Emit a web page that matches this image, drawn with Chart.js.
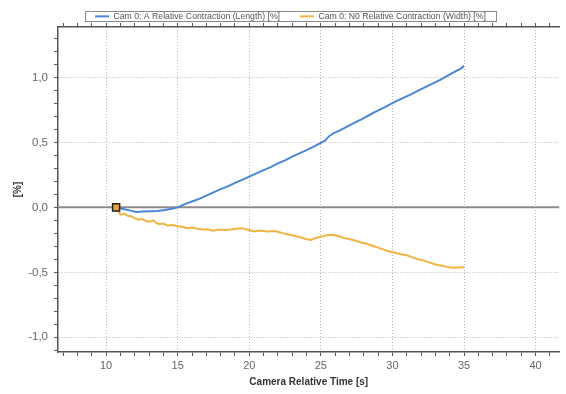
<!DOCTYPE html>
<html>
<head>
<meta charset="utf-8">
<script src="https://cdn.jsdelivr.net/npm/chart.js@4/dist/chart.umd.min.js"></script>
<style>
html,body{margin:0;padding:0;background:#fff;overflow:hidden;}
#c{display:block;}
</style>
</head>
<body>
<canvas id="c" width="566" height="394"></canvas>
<script>
// ---- data ----
const seriesNames = ['Cam 0: A Relative Contraction (Length) [%]', 'Cam 0: N0 Relative Contraction (Width) [%]'];

const lengthX = [10.7, 11.2, 11.7, 12.1, 12.6, 13.1, 13.6, 14.1, 14.6, 15.0, 15.5, 16.0, 16.5, 17.0, 17.5, 18.0, 18.5, 19.0, 19.5, 20.0, 20.5, 21.0, 21.5, 22.0, 22.5, 23.0, 23.5, 24.0, 24.5, 25.0, 25.3, 25.6, 25.9, 26.3, 26.8, 27.3, 27.8, 28.3, 28.8, 29.3, 29.8, 30.3, 30.8, 31.3, 31.8, 32.3, 32.8, 33.3, 33.8, 34.3, 34.8, 35.0];
const lengthY = [0.0, -0.012, -0.025, -0.035, -0.032, -0.03, -0.028, -0.02, -0.01, 0.0, 0.025, 0.045, 0.065, 0.09, 0.115, 0.14, 0.162, 0.188, 0.212, 0.237, 0.262, 0.287, 0.31, 0.338, 0.362, 0.39, 0.415, 0.44, 0.468, 0.497, 0.515, 0.55, 0.572, 0.59, 0.62, 0.648, 0.676, 0.705, 0.735, 0.762, 0.79, 0.82, 0.845, 0.87, 0.898, 0.925, 0.952, 0.98, 1.01, 1.04, 1.07, 1.09];

const widthX = [10.7, 10.9, 11.0, 11.3, 11.5, 11.8, 12.0, 12.3, 12.5, 12.8, 13.0, 13.3, 13.5, 13.7, 14.0, 14.3, 14.6, 15.0, 15.3, 15.7, 16.0, 16.4, 16.8, 17.1, 17.5, 17.9, 18.3, 18.7, 19.1, 19.5, 19.9, 20.3, 20.7, 21.0, 21.3, 21.7, 22.0, 22.4, 22.8, 23.2, 23.6, 24.0, 24.3, 24.6, 25.0, 25.4, 25.8, 26.2, 26.6, 27.0, 27.4, 27.8, 28.2, 28.6, 29.0, 29.4, 29.8, 30.2, 30.6, 31.0, 31.4, 31.8, 32.2, 32.6, 33.0, 33.4, 33.8, 34.2, 34.6, 35.0];
const widthY = [0.0, -0.04, -0.056, -0.05, -0.065, -0.07, -0.085, -0.095, -0.09, -0.105, -0.11, -0.1, -0.12, -0.13, -0.125, -0.14, -0.135, -0.146, -0.15, -0.16, -0.155, -0.165, -0.17, -0.168, -0.18, -0.17, -0.175, -0.17, -0.165, -0.16, -0.172, -0.185, -0.178, -0.182, -0.185, -0.182, -0.188, -0.2, -0.21, -0.22, -0.232, -0.245, -0.25, -0.238, -0.225, -0.215, -0.21, -0.22, -0.235, -0.245, -0.255, -0.27, -0.28, -0.295, -0.31, -0.325, -0.34, -0.35, -0.36, -0.368, -0.385, -0.4, -0.41, -0.425, -0.44, -0.448, -0.458, -0.465, -0.462, -0.46];

const markerX = [10.7];
const markerY = [0.0];

const xTickValues = [10, 15, 20, 25, 30, 35, 40];
const xTickLabels = ['10', '15', '20', '25', '30', '35', '40'];
const yTickValues = [-1.0, -0.5, 0.0, 0.5, 1.0];
const yTickLabels = ['-1,0', '-0,5', '0,0', '0,5', '1,0'];

const xMin = 6.64, xMax = 41.67;
const yMin = -1.113, yMax = 1.388;

// ---- helpers ----
const toPts = (xs, ys) => xs.map((x, i) => ({x: x, y: ys[i]}));
const findMajor = (vals, v) => vals.findIndex(t => Math.abs(t - v) < 1e-6);

const legendBoxPlugin = {
  id: 'legendBox',
  afterDraw(chart) {
    const lg = chart.legend;
    if (!lg || !lg.legendHitBoxes || !lg.legendHitBoxes.length) return;
    const hb = lg.legendHitBoxes;
    let l = Infinity, r = -Infinity, t = Infinity, b = -Infinity;
    hb.forEach(h => { l = Math.min(l, h.left); r = Math.max(r, h.left + h.width); t = Math.min(t, h.top); b = Math.max(b, h.top + h.height); });
    const cy = (t + b) / 2;
    const ctx = chart.ctx;
    ctx.save();
    ctx.strokeStyle = '#8a8a8a';
    ctx.lineWidth = 1;
    ctx.strokeRect(Math.round(l - 10) + 0.5, Math.round(cy - 5) + 0.5, Math.round(r - l + 20), 10);
    ctx.restore();
  }
};

new Chart(document.getElementById('c'), {
  type: 'scatter',
  data: {
    datasets: [
      {
        label: seriesNames[0],
        data: toPts(lengthX, lengthY),
        showLine: true,
        borderColor: '#4a86d6',
        backgroundColor: '#4a86d6',
        borderWidth: 2,
        pointRadius: 0,
        tension: 0,
        order: 1
      },
      {
        label: seriesNames[1],
        data: toPts(widthX, widthY),
        showLine: true,
        borderColor: '#f0b445',
        backgroundColor: '#f0b445',
        borderWidth: 2,
        pointRadius: 0,
        tension: 0,
        order: 1
      },
      {
        label: 'zero',
        data: toPts([xMin, xMax], [0, 0]),
        showLine: true,
        borderColor: '#8c8c8c',
        borderWidth: 2,
        pointRadius: 0,
        order: 3
      },
      {
        label: 'marker',
        data: toPts(markerX, markerY),
        showLine: false,
        pointStyle: 'rect',
        pointRadius: 5,
        backgroundColor: '#e9a13b',
        borderColor: '#222',
        borderWidth: 1.5,
        order: 0
      }
    ]
  },
  options: {
    responsive: false,
    animation: false,
    devicePixelRatio: 1,
    layout: { padding: { top: -8, left: 15, right: 0, bottom: 0 } },
    plugins: {
      tooltip: { enabled: false },
      legend: {
        position: 'top',
        maxHeight: 30,
        labels: {
          font: { family: 'Liberation Sans', size: 8.7 },
          color: '#555',
          boxWidth: 14,
          boxHeight: 2,
          padding: 20,
          filter: (item) => seriesNames.includes(item.text),
          generateLabels: (chart) => Chart.defaults.plugins.legend.labels.generateLabels(chart).map(it => { it.lineWidth = 0; return it; })
        }
      }
    },
    scales: {
      x: {
        type: 'linear',
        position: 'bottom',
        min: xMin, max: xMax,
        afterFit: (s) => { s.height = 42; },
        ticks: {
          stepSize: 1,
          includeBounds: false,
          autoSkip: false,
          maxRotation: 0,
          padding: 3,
          font: { family: 'Liberation Sans', size: 11 },
          color: '#666',
          callback: (v) => { const i = findMajor(xTickValues, v); return i >= 0 ? xTickLabels[i] : ''; }
        },
        grid: {
          color: (c) => (c.tick && findMajor(xTickValues, c.tick.value) >= 0) ? '#b4b4b4' : 'rgba(0,0,0,0)',
          lineWidth: 1,
          borderDash: [1, 2],
          tickColor: '#555',
          tickLength: 4,
          drawTicks: true
        },
        border: { display: true, color: '#555', width: 1.5, dash: [1, 2] },
        title: {
          display: true,
          text: 'Camera Relative Time [s]',
          color: '#333',
          font: { family: 'Liberation Sans', size: 10, weight: 'bold' },
          padding: { top: 0, bottom: 6 }
        }
      },
      x2: {
        type: 'linear',
        position: 'top',
        min: xMin, max: xMax,
        afterFit: (s) => { s.height = 5; },
        ticks: { stepSize: 1, includeBounds: false, display: false },
        grid: { drawOnChartArea: false, tickColor: '#555', tickLength: 4, color: '#555' },
        border: { display: true, color: '#555', width: 1.5 }
      },
      y: {
        type: 'linear',
        position: 'left',
        min: yMin, max: yMax,
        afterFit: (s) => { s.width = 43; },
        ticks: {
          stepSize: 0.1,
          includeBounds: false,
          autoSkip: false,
          padding: 6,
          font: { family: 'Liberation Sans', size: 11.5 },
          color: '#666',
          callback: (v) => { const i = findMajor(yTickValues, v); return i >= 0 ? yTickLabels[i] : ''; }
        },
        grid: {
          color: (c) => { if (!c.tick) return 'rgba(0,0,0,0)'; const i = findMajor(yTickValues, c.tick.value); return (i >= 0 && Math.abs(c.tick.value) > 1e-6) ? '#b4b4b4' : 'rgba(0,0,0,0)'; },
          lineWidth: 1,
          borderDash: [1, 2],
          tickColor: '#555',
          tickLength: 4
        },
        border: { display: true, color: '#555', width: 1.5, dash: [1, 2] },
        title: {
          display: true,
          text: '[%]',
          color: '#333',
          font: { family: 'Liberation Sans', size: 10, weight: 'bold' },
          padding: { top: -3, bottom: 0 }
        }
      }
    }
  },
  plugins: [legendBoxPlugin]
});
</script>
</body>
</html>
